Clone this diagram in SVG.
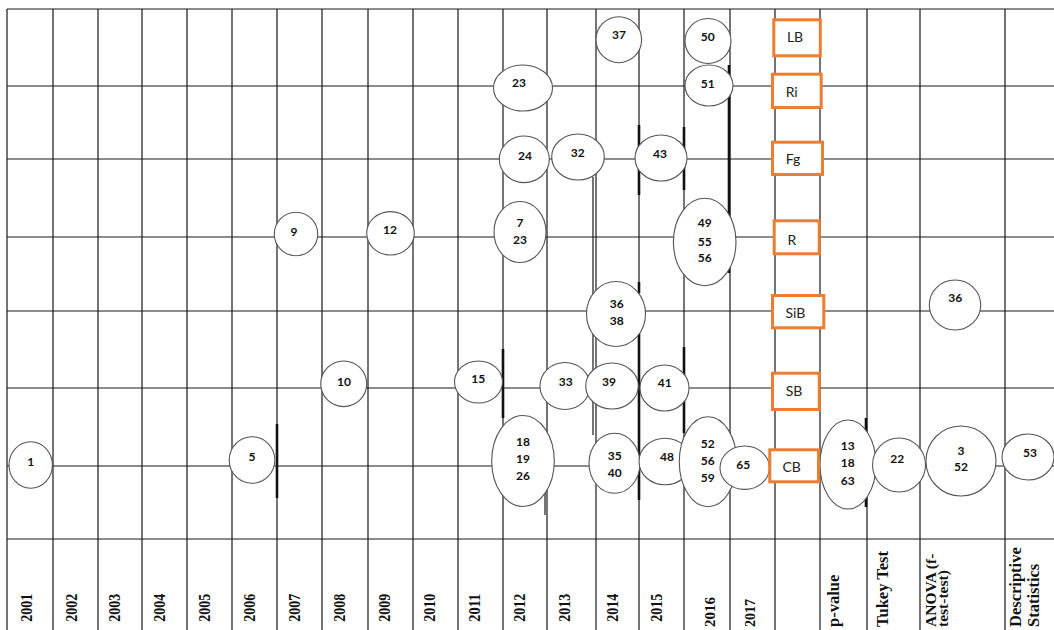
<svg xmlns="http://www.w3.org/2000/svg" width="1054" height="630" viewBox="0 0 1054 630">
<style>
.g{stroke:#1a1a1a;stroke-width:1.2;fill:none}
.t{stroke:#111;stroke-width:2.6;fill:none}
.e{fill:#fff;stroke:#555;stroke-width:1.1}
.n{font-family:Lato,"Open Sans",sans-serif;font-weight:700;font-size:12px;fill:#111;text-anchor:middle}
.b{fill:#fff;stroke:#ED7D31;stroke-width:3}
.bl{font-family:Lato,"Open Sans",sans-serif;font-size:14px;fill:#222;text-anchor:middle}
.y{font-family:"Liberation Serif","Times New Roman",serif;font-weight:700;font-size:16px;fill:#111}
.h{font-family:"Liberation Serif","Times New Roman",serif;font-weight:700;font-size:16.5px;fill:#111}
</style>
<rect width="1054" height="630" fill="#fff"/>
<g id="connectors">
<path class="g" d="M7 9V630M53 9V630M98 9V630M142 9V630M187 9V630M232 9V630M277 9V630M322 9V630M368 9V630M413 9V630M458 9V630M503 9V630M547 9V630M596 9V630M639 9V630M684 9V630M730 9V630M775 9V630M820 9V630M867 9V630M920 9V630M1005 9V630"/>
<path class="g" d="M7 9H1054M7 86H1054M7 159H1054M7 237H1054M7 311H1054M7 388H1054M7 466H1054M7 539H1054"/>
<path class="t" d="M277 424V498M503 349V418M639 125V195M639 282V293M639 333V500M684 127V190M684 347V433M729 65V273M866 418V507"/>
<path class="g" d="M545 490V515M593 177V435"/>
</g>
<g id="n1"><ellipse class="e" cx="30.7" cy="465" rx="21.7" ry="23.3"/><text class="n" x="30.7" y="465.7">1</text></g>
<g id="n5"><ellipse class="e" cx="252" cy="460" rx="22.8" ry="23.3"/><text class="n" x="252" y="460.7">5</text></g>
<g id="n9"><ellipse class="e" cx="296" cy="234" rx="21.7" ry="21.8"/><text class="n" x="294" y="235.7">9</text></g>
<g id="n12"><ellipse class="e" cx="390.5" cy="233.3" rx="23.8" ry="21.7"/><text class="n" x="390" y="234">12</text></g>
<g id="n10"><ellipse class="e" cx="343.7" cy="383.8" rx="23" ry="22.8"/><text class="n" x="344" y="385.7">10</text></g>
<g id="n15"><ellipse class="e" cx="478.5" cy="382" rx="24" ry="21"/><text class="n" x="478.3" y="383.3">15</text></g>
<g id="n23a"><ellipse class="e" cx="523" cy="88" rx="29.5" ry="23"/><text class="n" x="519" y="87.3">23</text></g>
<g id="n24"><ellipse class="e" cx="524.3" cy="159.3" rx="25" ry="23.3"/><text class="n" x="525" y="159.7">24</text></g>
<g id="n32"><ellipse class="e" cx="578" cy="157" rx="26.3" ry="23"/><text class="n" x="577.7" y="157.3">32</text></g>
<g id="n43"><ellipse class="e" cx="661" cy="158" rx="26" ry="23"/><text class="n" x="660" y="158">43</text></g>
<g id="n37"><ellipse class="e" cx="618.8" cy="39.7" rx="22.8" ry="23"/><text class="n" x="619" y="39">37</text></g>
<g id="n50"><ellipse class="e" cx="708" cy="41" rx="23" ry="22.5"/><text class="n" x="707.7" y="40.7">50</text></g>
<g id="n51"><ellipse class="e" cx="709" cy="85.5" rx="24" ry="20.5"/><text class="n" x="707.7" y="88">51</text></g>
<g id="n7_23"><ellipse class="e" cx="520" cy="232" rx="26" ry="30.5"/><text class="n" x="520" y="227.3">7</text><text class="n" x="520" y="244">23</text></g>
<g id="n49_55_56"><ellipse class="e" cx="704.7" cy="242" rx="31.3" ry="43.7"/><text class="n" x="704.7" y="227.3">49</text><text class="n" x="704.7" y="245.7">55</text><text class="n" x="704.7" y="262.3">56</text></g>
<g id="n36_38"><ellipse class="e" cx="616" cy="314" rx="29.5" ry="32.5"/><text class="n" x="616.7" y="308.3">36</text><text class="n" x="616.7" y="325">38</text></g>
<g id="n33"><ellipse class="e" cx="565" cy="386" rx="25" ry="23.5"/><text class="n" x="565.7" y="385.7">33</text></g>
<g id="n39"><ellipse class="e" cx="612" cy="386" rx="26.3" ry="23"/><text class="n" x="609" y="385.7">39</text></g>
<g id="n41"><ellipse class="e" cx="664.5" cy="388" rx="24.5" ry="23"/><text class="n" x="664.7" y="386.7">41</text></g>
<g id="n18_19_26"><ellipse class="e" cx="523" cy="461" rx="31.3" ry="45.5"/><text class="n" x="523" y="446.3">18</text><text class="n" x="523" y="463.3">19</text><text class="n" x="523" y="480">26</text></g>
<g id="n35_40"><ellipse class="e" cx="614.5" cy="463.3" rx="25.5" ry="30"/><text class="n" x="614.7" y="460">35</text><text class="n" x="614.7" y="476.7">40</text></g>
<g id="n48"><ellipse class="e" cx="665" cy="461.5" rx="26" ry="23.3"/><text class="n" x="667" y="461.3">48</text></g>
<g id="n52_56_59"><ellipse class="e" cx="708" cy="461.7" rx="28.7" ry="45"/><text class="n" x="707.7" y="448">52</text><text class="n" x="707.7" y="465">56</text><text class="n" x="707.7" y="481.7">59</text></g>
<g id="n65"><ellipse class="e" cx="744.7" cy="467.7" rx="24.7" ry="21.7"/><text class="n" x="743.3" y="469">65</text></g>
<g id="n36b"><ellipse class="e" cx="955" cy="305" rx="25.7" ry="25"/><text class="n" x="955.3" y="302.3">36</text></g>
<g id="n13_18_63"><ellipse class="e" cx="848" cy="464.5" rx="28" ry="44.5"/><text class="n" x="847.7" y="449.7">13</text><text class="n" x="847.7" y="467.3">18</text><text class="n" x="847.7" y="485.3">63</text></g>
<g id="n22"><ellipse class="e" cx="899" cy="465" rx="26.5" ry="27"/><text class="n" x="897.3" y="463">22</text></g>
<g id="n3_52"><ellipse class="e" cx="961" cy="461" rx="35" ry="35"/><text class="n" x="961" y="454.7">3</text><text class="n" x="961" y="471.3">52</text></g>
<g id="n53"><ellipse class="e" cx="1028" cy="457" rx="26" ry="23"/><text class="n" x="1030" y="457.3">53</text></g>
<g id="LB"><rect class="b" x="773.8" y="19.8" width="46.5" height="36"/><text class="bl" x="795" y="42.3">LB</text></g>
<g id="Ri"><rect class="b" x="772.5" y="74.2" width="48.7" height="33.3"/><text class="bl" x="791.7" y="97.3">Ri</text></g>
<g id="Fg"><rect class="b" x="772.5" y="142.2" width="50" height="32.3"/><text class="bl" x="793" y="164">Fg</text></g>
<g id="R"><rect class="b" x="774.2" y="220.8" width="45" height="33"/><text class="bl" x="792" y="245">R</text></g>
<g id="SiB"><rect class="b" x="772.5" y="295.5" width="51.3" height="32.3"/><text class="bl" x="795.3" y="317.7">SiB</text></g>
<g id="SB"><rect class="b" x="772.5" y="373.2" width="46.7" height="36.3"/><text class="bl" x="794" y="396">SB</text></g>
<g id="CB"><rect class="b" x="769.8" y="449.8" width="48.7" height="32"/><text class="bl" x="791.7" y="471.7">CB</text></g>
<g id="axis">
<text class="y" textLength="28" lengthAdjust="spacingAndGlyphs" transform="translate(32,621.7) rotate(-90)">2001</text>
<text class="y" textLength="28" lengthAdjust="spacingAndGlyphs" transform="translate(76.7,621.7) rotate(-90)">2002</text>
<text class="y" textLength="28" lengthAdjust="spacingAndGlyphs" transform="translate(120,621.7) rotate(-90)">2003</text>
<text class="y" textLength="28" lengthAdjust="spacingAndGlyphs" transform="translate(165,621.7) rotate(-90)">2004</text>
<text class="y" textLength="28" lengthAdjust="spacingAndGlyphs" transform="translate(210,621.7) rotate(-90)">2005</text>
<text class="y" textLength="28" lengthAdjust="spacingAndGlyphs" transform="translate(255,621.7) rotate(-90)">2006</text>
<text class="y" textLength="28" lengthAdjust="spacingAndGlyphs" transform="translate(300,621.7) rotate(-90)">2007</text>
<text class="y" textLength="28" lengthAdjust="spacingAndGlyphs" transform="translate(345,621.7) rotate(-90)">2008</text>
<text class="y" textLength="28" lengthAdjust="spacingAndGlyphs" transform="translate(390,621.7) rotate(-90)">2009</text>
<text class="y" textLength="28" lengthAdjust="spacingAndGlyphs" transform="translate(435,621.7) rotate(-90)">2010</text>
<text class="y" textLength="28" lengthAdjust="spacingAndGlyphs" transform="translate(480,621.7) rotate(-90)">2011</text>
<text class="y" textLength="28" lengthAdjust="spacingAndGlyphs" transform="translate(525,621.7) rotate(-90)">2012</text>
<text class="y" textLength="28" lengthAdjust="spacingAndGlyphs" transform="translate(570,621.7) rotate(-90)">2013</text>
<text class="y" textLength="28" lengthAdjust="spacingAndGlyphs" transform="translate(618.3,621.7) rotate(-90)">2014</text>
<text class="y" textLength="28" lengthAdjust="spacingAndGlyphs" transform="translate(662,621.7) rotate(-90)">2015</text>
<text class="y" style="font-size:15px" transform="translate(715,627) rotate(-90)">2016</text>
<text class="y" style="font-size:14px" transform="translate(755,627) rotate(-90)">2017</text>
<text class="h" transform="translate(839,627) rotate(-90)">p-value</text>
<text class="h" transform="translate(888,627) rotate(-90)">Tukey Test</text>
<text class="h" style="font-size:15.5px" transform="translate(935.5,627) rotate(-90)">ANOVA (f-</text>
<text class="h" style="font-size:15.5px" transform="translate(947.5,627) rotate(-90)">test-test)</text>
<text class="h" transform="translate(1020.5,627) rotate(-90)">Descriptive</text>
<text class="h" transform="translate(1039,627) rotate(-90)">Statistics</text>
</g>
</svg>
